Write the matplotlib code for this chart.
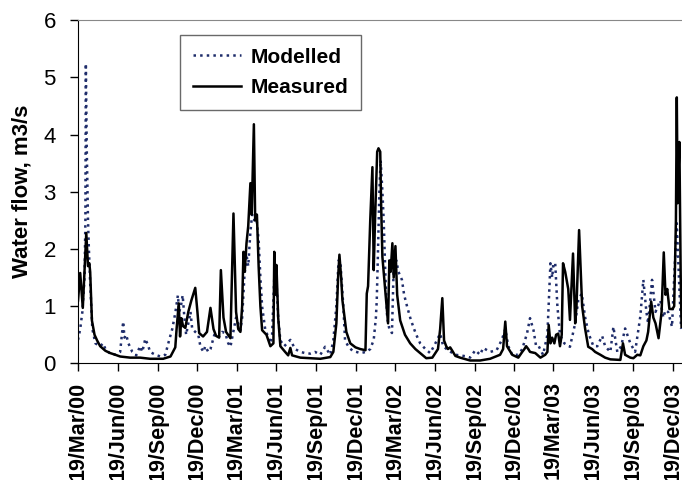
import pandas as pd
import matplotlib
matplotlib.use("Agg")
import matplotlib.pyplot as plt

plt.rcParams['font.family'] = ['Liberation Sans', 'DejaVu Sans']

start = pd.Timestamp('2000-03-19')

# measured flow: day of record (days since 19/Mar/00) and m3/s
meas_day = [0, 5, 11, 19, 23, 26, 28, 32, 38, 44, 51, 63, 74, 86, 97, 120, 143, 166, 196, 213,
            224, 227, 232, 235, 238, 242, 247, 254, 261, 270, 275, 279, 288, 297, 305, 312, 318, 325,
            329, 335, 341, 351, 358, 364, 369, 374, 378, 381, 384, 388, 392, 397, 400, 405, 408, 412,
            416, 420, 424, 434, 443, 450, 452, 454, 457, 461, 466, 477, 484, 489, 493, 512, 535, 558,
            581, 588, 595, 599, 602, 606, 609, 618, 627, 639, 650, 662, 665, 668, 673, 678, 681, 684,
            689, 692, 696, 698, 701, 705, 712, 714, 717, 720, 724, 727, 731, 735, 742, 753, 765, 777,
            788, 802, 816, 829, 834, 839, 843, 848, 852, 857, 862, 869, 880, 903, 926, 949, 972, 979,
            984, 988, 1000, 1014, 1023, 1028, 1032, 1037, 1041, 1053, 1065, 1076, 1081, 1084, 1088,
            1092, 1097, 1101, 1106, 1110, 1114, 1117, 1122, 1129, 1133, 1140, 1145, 1148, 1154, 1161,
            1168, 1175, 1184, 1191, 1203, 1214, 1226, 1249, 1255, 1260, 1272, 1279, 1288, 1295, 1302,
            1309, 1313, 1320, 1325, 1330, 1337, 1344, 1349, 1353, 1357, 1362, 1369, 1373, 1377, 1379,
            1381, 1385, 1388, 1390]
meas_flow = [1.1, 1.58, 0.97, 2.28, 1.7, 1.75, 1.6, 0.75, 0.5, 0.4, 0.3, 0.22, 0.18, 0.15, 0.12, 0.1,
             0.1, 0.08, 0.08, 0.12, 0.28, 0.6, 1.05, 0.47, 0.79, 0.65, 0.62, 0.9, 1.1, 1.32, 0.9, 0.53,
             0.47, 0.55, 0.97, 0.6, 0.48, 0.45, 1.63, 0.8, 0.55, 0.44, 2.62, 0.9, 0.6, 0.55, 1.0, 1.95,
             1.6, 2.1, 2.4, 3.15, 2.6, 4.18, 2.5, 2.6, 1.69, 1.0, 0.58, 0.5, 0.3, 0.35, 1.95, 1.2, 1.72,
             0.8, 0.3, 0.2, 0.14, 0.27, 0.14, 0.1, 0.09, 0.08, 0.11, 0.2, 0.7, 1.5, 1.9, 1.5, 1.1, 0.55,
             0.35, 0.28, 0.25, 0.23, 1.22, 1.35, 2.5, 3.43, 1.63, 2.5, 3.7, 3.76, 3.7, 2.8, 1.86, 1.5,
             0.87, 0.7, 1.8, 1.6, 2.1, 1.5, 2.05, 1.2, 0.75, 0.5, 0.35, 0.25, 0.18, 0.09, 0.1, 0.25,
             0.6, 1.14, 0.4, 0.3, 0.25, 0.28, 0.22, 0.13, 0.1, 0.05, 0.05, 0.08, 0.15, 0.25, 0.73, 0.3,
             0.15, 0.1, 0.2, 0.25, 0.3, 0.25, 0.2, 0.18, 0.1, 0.15, 0.2, 0.67, 0.35, 0.45, 0.35, 0.5,
             0.52, 0.3, 0.5, 1.75, 1.6, 1.3, 0.76, 1.92, 0.7, 1.0, 2.33, 1.0, 0.6, 0.29, 0.25, 0.2,
             0.15, 0.1, 0.07, 0.06, 0.35, 0.15, 0.1, 0.09, 0.15, 0.14, 0.3, 0.4, 0.55, 1.08, 0.8, 0.7,
             0.44, 0.9, 1.94, 1.2, 1.3, 0.95, 0.95, 1.0, 2.5, 4.65, 2.8, 3.87, 1.5, 0.64]

# modelled flow
mod_day = [0, 5, 10, 15, 17, 18, 20, 23, 25, 28, 33, 40, 51, 58, 63, 74, 86, 97, 104, 107, 111, 116,
           125, 134, 143, 148, 155, 162, 166, 178, 190, 201, 210, 217, 224, 230, 233, 237, 241, 245,
           249, 254, 259, 263, 270, 277, 282, 289, 293, 300, 305, 314, 323, 332, 339, 346, 351, 355,
           364, 374, 378, 383, 388, 392, 397, 401, 406, 410, 416, 420, 424, 431, 435, 443, 447, 452,
           456, 461, 466, 475, 489, 500, 512, 523, 535, 546, 558, 569, 581, 588, 595, 600, 604, 611,
           615, 623, 632, 650, 664, 673, 681, 686, 688, 691, 694, 697, 701, 704, 708, 712, 717, 723,
           727, 733, 738, 746, 751, 758, 765, 772, 779, 788, 800, 811, 823, 834, 841, 852, 869, 880,
           896, 903, 915, 926, 933, 949, 964, 976, 984, 991, 1000, 1014, 1023, 1034, 1041, 1049, 1055,
           1061, 1071, 1081, 1088, 1092, 1095, 1099, 1104, 1110, 1120, 1133, 1145, 1152, 1160, 1168,
           1176, 1187, 1196, 1207, 1214, 1226, 1233, 1242, 1251, 1260, 1272, 1283, 1295, 1302, 1309,
           1313, 1322, 1330, 1341, 1348, 1353, 1359, 1368, 1373, 1379, 1385, 1389]
mod_flow = [0.41, 0.6, 0.9, 1.5, 2.5, 5.24, 3.8, 2.5, 2.0, 1.4, 0.6, 0.35, 0.3, 0.35, 0.25, 0.17, 0.15,
            0.2, 0.73, 0.45, 0.5, 0.35, 0.2, 0.14, 0.3, 0.2, 0.43, 0.3, 0.2, 0.15, 0.12, 0.15, 0.41,
            0.6, 0.88, 1.19, 0.9, 1.0, 1.19, 0.8, 0.5, 0.7, 0.9, 0.6, 0.55, 0.5, 0.29, 0.2, 0.3, 0.2,
            0.25, 0.5, 0.45, 0.55, 0.53, 0.35, 0.29, 0.45, 0.8, 0.58, 0.8, 1.5, 1.9, 1.7, 2.3, 2.6,
            2.5, 2.6, 2.15, 1.5, 0.99, 0.6, 0.52, 0.35, 0.5, 1.5, 1.6, 0.8, 0.4, 0.3, 0.41, 0.25, 0.2,
            0.18, 0.17, 0.2, 0.15, 0.29, 0.15, 0.4, 1.0, 1.8, 1.8, 1.0, 0.4, 0.29, 0.22, 0.18, 0.2,
            0.25, 0.41, 0.8, 1.1, 2.0, 3.0, 3.55, 3.0, 2.5, 1.5, 0.8, 0.6, 0.53, 1.68, 1.8, 1.6, 1.46,
            1.2, 0.99, 0.8, 0.64, 0.5, 0.35, 0.25, 0.18, 0.35, 0.52, 0.3, 0.23, 0.15, 0.14, 0.12, 0.1,
            0.23, 0.15, 0.27, 0.2, 0.23, 0.41, 0.6, 0.3, 0.15, 0.15, 0.25, 0.52, 0.79, 0.58, 0.3, 0.3,
            0.15, 0.5, 1.75, 1.5, 1.75, 1.75, 1.0, 0.5, 0.35, 0.29, 0.7, 1.1, 1.22, 0.8, 0.52, 0.3,
            0.3, 0.48, 0.3, 0.2, 0.64, 0.2, 0.3, 0.61, 0.35, 0.2, 0.82, 1.46, 0.9, 0.7, 1.46, 0.9, 1.1,
            0.8, 0.93, 0.9, 0.64, 1.5, 2.45, 1.3, 0.6]

tick_dates = ['2000-03-19', '2000-06-19', '2000-09-19', '2000-12-19', '2001-03-19', '2001-06-19',
              '2001-09-19', '2001-12-19', '2002-03-19', '2002-06-19', '2002-09-19', '2002-12-19',
              '2003-03-19', '2003-06-19', '2003-09-19', '2003-12-19']
tick_labels = ['19/Mar/00', '19/Jun/00', '19/Sep/00', '19/Dec/00', '19/Mar/01', '19/Jun/01',
               '19/Sep/01', '19/Dec/01', '19/Mar/02', '19/Jun/02', '19/Sep/02', '19/Dec/02',
               '19/Mar/03', '19/Jun/03', '19/Sep/03', '19/Dec/03']

meas_t = start + pd.to_timedelta(meas_day, unit='D')
mod_t = start + pd.to_timedelta(mod_day, unit='D')

fig = plt.figure(figsize=(6.82, 4.8), dpi=100)
ax = fig.add_axes([0.1144, 0.243, 0.8856, 0.715])

ax.plot(mod_t, mod_flow, color='#1f2d6b', linestyle=':', linewidth=1.8, label='Modelled')
ax.plot(meas_t, meas_flow, color='black', linewidth=1.8, label='Measured')

ax.set_ylim(0, 6)
ax.set_xlim(start, start + pd.Timedelta(days=1391))
ax.set_yticks(range(7))
ax.tick_params(axis='y', labelsize=16, length=6, width=1, pad=10)
ax.set_xticks(pd.to_datetime(tick_dates))
ax.set_xticklabels(tick_labels, rotation=90, fontweight='bold', fontsize=15.5)
ax.tick_params(axis='x', length=6, width=1, pad=7)
ax.set_ylabel('Water flow, m3/s', fontsize=16, fontweight='bold', labelpad=8)

ax.spines['top'].set_color('#888888')
ax.spines['right'].set_visible(False)

leg = ax.legend(loc='upper left', bbox_to_anchor=(0.169, 0.956), borderaxespad=0, fancybox=False,
                edgecolor='#444444', prop={'weight': 'bold', 'size': 15},
                handlelength=2.3, borderpad=0.6, labelspacing=0.55, handletextpad=0.5)
leg.get_frame().set_linewidth(1.0)

fig.savefig('out.png', dpi=100)
